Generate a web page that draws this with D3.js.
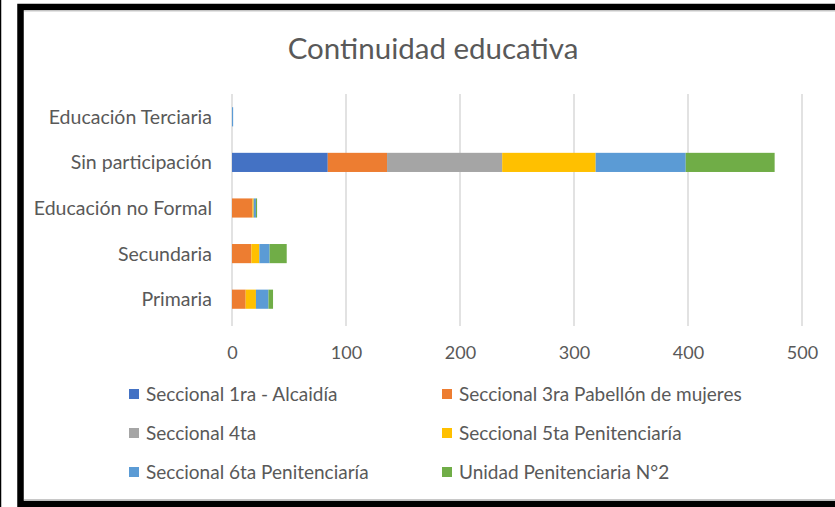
<!DOCTYPE html>
<html>
<head>
<meta charset="utf-8">
<script src="https://cdn.jsdelivr.net/npm/d3@7"></script>
<style>
  html, body { margin: 0; padding: 0; background: #fff; }
  svg { display: block; }
  text { font-family: Lato, "Open Sans", sans-serif; fill: #595959; }
</style>
</head>
<body>
<script>
// ---- data ----
const title = "Continuidad educativa";
const categories = ["Educación Terciaria", "Sin participación", "Educación no Formal", "Secundaria", "Primaria"];
const seriesNames = ["Seccional 1ra - Alcaidía", "Seccional 3ra Pabellón de mujeres", "Seccional 4ta",
                     "Seccional 5ta Penitenciaría", "Seccional 6ta Penitenciaría", "Unidad Penitenciaria N°2"];
const seccional1 = [0, 84, 0, 0, 0];
const seccional3 = [0, 52, 18, 17, 12];
const seccional4 = [0, 101, 0, 0, 0];
const seccional5 = [0, 82, 1, 7, 9];
const seccional6 = [1, 79, 2, 9, 11];
const unidad2    = [0, 78, 1, 15, 4];
const xTicks = [0, 100, 200, 300, 400, 500];
const colors = ["#4472C4", "#ED7D31", "#A5A5A5", "#FFC000", "#5B9BD5", "#70AD47"];

const seriesValues = [seccional1, seccional3, seccional4, seccional5, seccional6, unidad2];
const table = categories.map((c, i) => {
  const row = { cat: c };
  seriesNames.forEach((s, j) => row[s] = seriesValues[j][i]);
  return row;
});

const W = 835, H = 507;
const svg = d3.select("body").append("svg").attr("width", W).attr("height", H);

// frame
svg.append("rect").attr("x", 0).attr("y", 0).attr("width", W).attr("height", H).attr("fill", "#fff");
svg.append("line").attr("x1", 0.5).attr("x2", 0.5).attr("y1", 0).attr("y2", H).attr("stroke", "#000").attr("stroke-width", 1.5);
svg.append("rect").attr("x", 20.5).attr("y", 7).attr("width", W + 20).attr("height", 497)
   .attr("fill", "none").attr("stroke", "#000").attr("stroke-width", 6.5);
svg.append("line").attr("x1", 24).attr("x2", W).attr("y1", 11).attr("y2", 11).attr("stroke", "#c8c8c8").attr("stroke-width", 1);
svg.append("line").attr("x1", 24).attr("x2", W).attr("y1", 499.5).attr("y2", 499.5).attr("stroke", "#c8c8c8").attr("stroke-width", 1);

// title
svg.append("text").attr("x", 433).attr("y", 58.5).attr("text-anchor", "middle")
   .style("font-size", "29.5px").text(title);

// scales
const x = d3.scaleLinear().domain([0, 500]).range([232, 802]);
const y = d3.scaleBand().domain(categories).range([94, 322]).paddingInner(0.58).paddingOuter(0.29);

// gridlines
svg.append("g").selectAll("line").data(xTicks).join("line")
  .attr("x1", d => x(d)).attr("x2", d => x(d))
  .attr("y1", 94).attr("y2", 326)
  .attr("stroke", "#D9D9D9").attr("stroke-width", 1.5);

// stacked bars
const stack = d3.stack().keys(seriesNames)(table);
svg.append("g").selectAll("g").data(stack).join("g")
  .attr("fill", (d, i) => colors[i])
  .selectAll("rect").data(d => d).join("rect")
  .attr("x", d => x(d[0]))
  .attr("width", d => x(d[1]) - x(d[0]))
  .attr("y", d => y(d.data.cat))
  .attr("height", y.bandwidth());

// x axis labels
const xAxis = d3.axisBottom(x).tickValues(xTicks).tickSize(0).tickPadding(0);
const gx = svg.append("g").attr("transform", "translate(0,359)").call(xAxis);
gx.select(".domain").remove();
gx.selectAll("text").attr("dy", 0).style("font-size", "18px").style("font-family", "Lato, sans-serif").attr("fill", "#595959");

// y axis labels
const yAxis = d3.axisLeft(y).tickSize(0).tickPadding(0);
const gy = svg.append("g").attr("transform", "translate(212,0)").call(yAxis);
gy.select(".domain").remove();
gy.selectAll("text").attr("dy", "0.36em").style("font-size", "19.5px").style("font-family", "Lato, sans-serif").attr("fill", "#595959");

// legend
const legendPos = [[129, 394], [442, 394], [129, 433], [442, 433], [129, 472], [442, 472]];
const lg = svg.append("g").selectAll("g").data(seriesNames).join("g")
  .attr("transform", (d, i) => `translate(${legendPos[i][0]},${legendPos[i][1]})`);
lg.append("rect").attr("x", 0).attr("y", -5).attr("width", 10).attr("height", 10).attr("fill", (d, i) => colors[i]);
lg.append("text").attr("x", 17).attr("y", 0).attr("dy", "0.37em").style("font-size", "19px").text(d => d);
</script>
</body>
</html>
